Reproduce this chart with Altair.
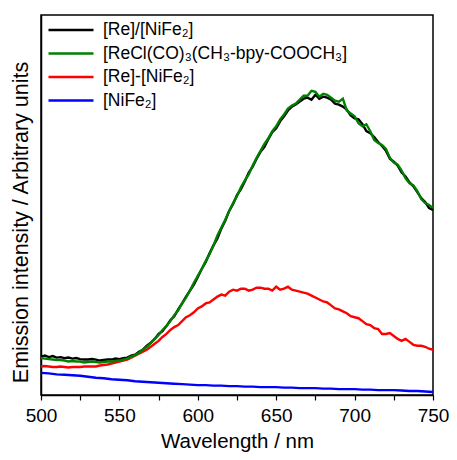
import altair as alt
import pandas as pd

# wavelength grid (nm) for the detailed traces and for the blue trace
wl_fine = [500 + 2.5 * i for i in range(101)]
wl_coarse = list(range(500, 751, 5))

black = [39, 40, 38.5, 39.5, 38, 38.5, 37.5, 38, 37, 37.5, 36.5, 36, 36, 36.5, 36, 35, 35.5, 36, 36, 37,
         36.5, 37.5, 38, 40, 41, 44, 46, 50, 53, 57, 62, 65, 70, 76, 80, 87, 93, 100, 106, 112,
         120, 128, 135, 144, 152, 159, 169, 177, 187, 194, 203, 209, 217, 226, 232, 240, 247, 252, 260, 267,
         271, 278, 283, 289, 293, 295, 298, 301, 302, 300, 305, 301, 303, 302, 300, 296, 295, 293, 290, 284,
         281, 280, 275, 268, 266, 262, 257, 253, 248, 240, 237, 233, 226, 222, 216, 212, 206, 200, 196, 190,
         188]
green = [37.5, 37, 36.5, 36, 35.5, 35.5, 35, 34, 34.5, 34, 34, 33, 33.5, 34, 33.5, 33, 33.5, 34, 34, 34.5,
         35, 36, 37, 39, 40.5, 43, 46, 49, 53, 57, 61, 66, 70, 75, 81, 86, 93, 99, 106, 114,
         121, 128, 136, 143, 152, 162, 170, 178, 187, 195, 202, 211, 218, 224, 233, 241, 248, 255, 261, 268,
         273, 280, 285, 291, 294, 296, 300, 304, 304, 309, 308, 303, 306, 305, 302, 299, 298, 301, 289, 286,
         283, 276, 273, 275, 268, 259, 256, 254, 250, 241, 236, 234, 228, 220, 215, 213, 207, 199, 195, 193,
         190]
red = [29, 29.5, 29, 28.5, 28.5, 29, 28.5, 28, 28.5, 28.5, 28.5, 29, 29, 29, 29, 30, 30.5, 31, 32, 33,
       34, 35, 36, 38, 40, 42, 44, 46, 49, 52, 55, 59, 62, 66, 69, 71, 75, 79, 81, 84,
       88, 90, 93, 94, 97, 100, 102, 101, 105, 107, 106, 108, 108, 106, 107, 109, 109, 108, 108, 106,
       110, 107, 108, 110, 107, 106, 105, 104, 103, 101, 99, 97, 95, 94, 91, 88, 87, 85, 83, 80,
       79, 78, 75, 72, 71, 68, 67, 62, 62, 63, 60, 57, 55, 57, 54, 51, 50, 50, 49, 47,
       46]
blue = [22.5, 22, 21, 20.5, 20, 19.5, 18.5, 17.5, 17, 16, 15.5, 15, 14, 13.5, 13, 12.5, 12, 11.5, 11, 10.5,
        10, 10, 9.5, 9.5, 9, 9, 8.5, 8.5, 8, 8, 8, 7.5, 7.5, 7, 7, 7, 6.5, 6.5, 6, 6,
        6, 5.5, 5.5, 5, 5, 5, 4.5, 4, 4, 3.5, 3]

series_names = ["[Re]/[NiFe₂]", "[ReCl(CO)₃(CH₃-bpy-COOCH₃]", "[Re]-[NiFe₂]", "[NiFe₂]"]
series_colors = ["#000000", "#008000", "#ff0000", "#0000ff"]
x_ticks = [500, 525, 550, 575, 600, 625, 650, 675, 700, 725, 750]

# draw order: black, red, blue, then green on top
draw = [(series_names[0], wl_fine, black), (series_names[2], wl_fine, red),
        (series_names[3], wl_coarse, blue), (series_names[1], wl_fine, green)]
rows = []
for name, wls, vals in draw:
    assert len(wls) == len(vals), name
    for w, v in zip(wls, vals):
        rows.append({"wl": w, "I": v, "series": name})
df = pd.DataFrame(rows)

FONT = "Liberation Sans"

chart = alt.Chart(df).mark_line(strokeWidth=2.4).encode(
    x=alt.X("wl:Q", scale=alt.Scale(domain=[500, 750], nice=False),
            axis=alt.Axis(values=x_ticks, labelExpr="datum.value % 50 == 0 ? datum.label : ''",
                          title="Wavelength / nm", grid=False, tickSize=5, tickColor="black",
                          domainColor="black", domainWidth=1.5, tickWidth=1.2,
                          labelFontSize=19, titleFontSize=20.5, labelColor="black", titleColor="black",
                          labelPadding=6, titlePadding=6, labelFont=FONT,
                          titleFont=FONT, titleFontWeight="normal", labelFlush=False)),
    y=alt.Y("I:Q", scale=alt.Scale(domain=[0, 386], nice=False),
            axis=alt.Axis(title="Emission intensity / Arbitrary units", labels=False, ticks=False,
                          grid=False, domainColor="black", domainWidth=1.5, titleFontSize=21.5,
                          titleColor="black", titleFont=FONT, titleFontWeight="normal",
                          titleX=-20, titleY=207, titleBaseline="middle")),
    color=alt.Color("series:N", scale=alt.Scale(domain=series_names, range=series_colors),
                    legend=alt.Legend(title=None, orient="none", legendX=21, legendY=6,
                                      symbolType="M-3,0H3", symbolSize=225, symbolStrokeWidth=2.5,
                                      labelFontSize=17.5, labelFont=FONT, labelColor="black",
                                      rowPadding=5.5, padding=0, labelOffset=23, labelLimit=400)),
    detail="series:N",
).properties(
    width=392, height=380,
    autosize=alt.AutoSizeParams(type="none"),
    padding={"left": 33, "top": 7, "right": 16, "bottom": 57},
).configure_view(stroke="black", strokeWidth=1.5)

chart.save("out.html", embed_options={"renderer": "svg", "actions": False})
